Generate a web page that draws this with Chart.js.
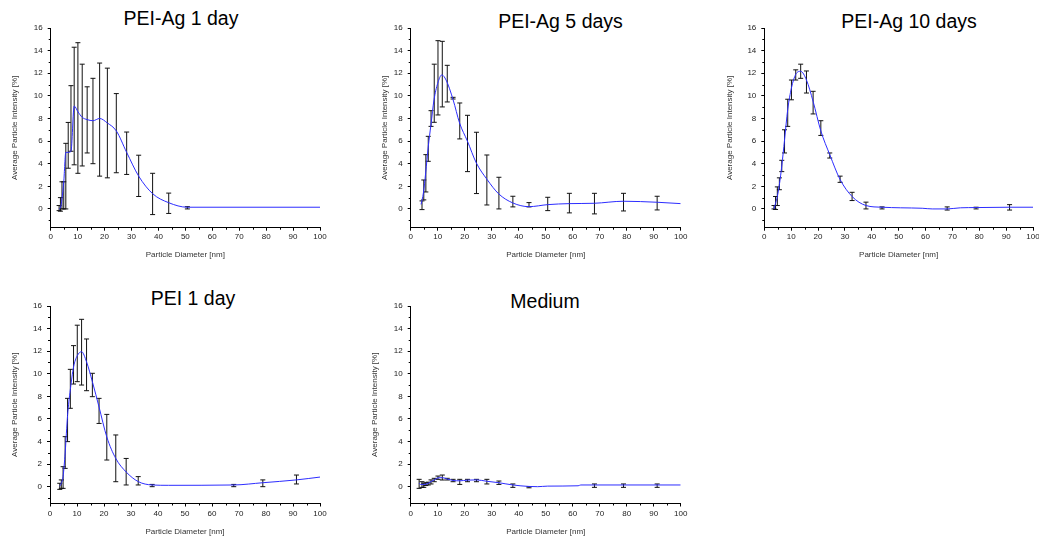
<!DOCTYPE html>
<html>
<head>
<meta charset="utf-8">
<script src="https://cdn.jsdelivr.net/npm/chart.js@4.4.1/dist/chart.umd.min.js"></script>
<style>
  body { margin: 0; background: #fff; width: 1039px; height: 540px; position: relative; overflow: hidden;
         font-family: Arial, 'Liberation Sans', sans-serif; }
  canvas { position: absolute; }
  .title { position: absolute; font-size: 19.5px; line-height: 1; white-space: nowrap; color: #000;
           transform: translateX(-50%); }
</style>
</head>
<body>
<div class="title" style="left:181px; top:8.5px">PEI-Ag 1 day</div>
<div class="title" style="left:560.5px; top:11.8px">PEI-Ag 5 days</div>
<div class="title" style="left:909px; top:11.8px">PEI-Ag 10 days</div>
<div class="title" style="left:193px; top:288.5px">PEI 1 day</div>
<div class="title" style="left:545px; top:291.8px">Medium</div>

<canvas id="c1" width="332" height="250" style="left:0px; top:22px"></canvas>
<canvas id="c2" width="333" height="250" style="left:360px; top:22px"></canvas>
<canvas id="c3" width="324" height="250" style="left:715px; top:22px"></canvas>
<canvas id="c4" width="332" height="240" style="left:0px; top:300px"></canvas>
<canvas id="c5" width="333" height="240" style="left:360px; top:300px"></canvas>

<script>
// axis ticks
const xTickValues = [0, 10, 20, 30, 40, 50, 60, 70, 80, 90, 100];
const yTickValues = [0, 2, 4, 6, 8, 10, 12, 14, 16];
const xMinorTicks = [5, 15, 25, 35, 45, 55, 65, 75, 85, 95];
const yMinorTicks = [-1, 1, 3, 5, 7, 9, 11, 13, 15];

// PEI-Ag 1 day
const barX1    = [3.122, 3.615, 4.187, 4.849, 5.615, 6.503, 7.531, 8.721, 10.1, 11.7, 13.54, 15.69, 18.17, 21.04, 24.36, 28.21, 32.67, 37.84, 43.82, 50.75];
const barLow1  = [-0.15, -0.2, 0.0, 0.0, 0.0, 3.6, 5.1, 3.9, 3.15, 3.8, 4.95, 4.0, 2.9, 2.75, 3.2, 3.05, 1.1, -0.5, -0.4, 0.0];
const barHigh1 = [0.3, 1.0, 2.4, 2.4, 5.8, 7.65, 10.9, 14.3, 14.7, 12.8, 10.8, 11.55, 12.9, 12.45, 10.2, 6.8, 4.75, 3.15, 1.4, 0.2];
const lineX1   = [3.122, 3.615, 4.187, 4.849, 5.615, 6.503, 7.531, 8.721, 10.1, 11.7, 13.54, 15.69, 18.17, 21.04, 24.36, 28.21, 32.67, 37.84, 43.82, 50.75, 100];
const lineY1   = [0.0, 0.1, 0.9, 2.4, 5.0, 5.0, 5.1, 9.1, 8.6, 8.1, 7.9, 7.8, 8.0, 7.6, 6.9, 5.0, 2.9, 1.35, 0.55, 0.15, 0.15];

// PEI-Ag 5 days
const barX2    = [4.187, 4.849, 5.615, 6.503, 7.531, 8.721, 10.1, 11.7, 13.54, 15.69, 18.17, 21.04, 24.36, 28.21, 32.67, 37.84, 43.82, 50.75, 58.77, 68.06, 78.82, 91.28];
const barLow2  = [-0.06, 0.8, 1.5, 4.21, 7.3, 7.66, 8.31, 9.02, 9.46, 9.72, 6.19, 3.3, 1.36, 0.35, 0.0, 0.18, 0.18, -0.15, -0.35, -0.44, -0.18, -0.09];
const barHigh2 = [0.71, 2.56, 4.8, 6.42, 8.69, 12.8, 14.88, 14.82, 12.7, 9.87, 9.37, 8.28, 6.78, 4.77, 2.8, 1.12, 0.56, 1.03, 1.38, 1.38, 1.38, 1.12];
const lineX2   = [3.83, 4.7, 5.55, 6.5, 7.5, 8.64, 10.0, 11.5, 13.1, 15.7, 18.1, 21.0, 24.3, 28.3, 32.6, 37.8, 43.8, 50.75, 58.8, 68.0, 78.8, 91.3, 100];
const lineY2   = [0.4, 1.4, 3.2, 5.5, 7.45, 9.66, 11.1, 11.85, 11.4, 9.66, 7.6, 6.0, 4.07, 2.6, 1.33, 0.53, 0.2, 0.38, 0.47, 0.5, 0.68, 0.59, 0.47];

// PEI-Ag 10 days
const barX3    = [3.615, 4.187, 4.849, 5.615, 6.503, 7.531, 8.721, 10.1, 11.7, 13.54, 15.69, 18.17, 21.04, 24.36, 28.21, 32.67, 37.84, 43.82, 68.06, 78.82, 91.28];
const barLow3  = [0.0, -0.05, 0.3, 1.7, 3.3, 4.95, 7.3, 9.65, 11.4, 11.55, 10.25, 8.4, 6.5, 4.5, 2.35, 0.74, 0.0, 0.0, -0.1, 0.0, -0.1];
const barHigh3 = [0.3, 1.1, 1.95, 2.75, 4.3, 7.0, 9.7, 11.4, 12.3, 12.8, 12.2, 10.4, 7.8, 4.95, 2.9, 1.47, 0.6, 0.18, 0.18, 0.15, 0.38];
const lineX3   = [3.615, 4.187, 4.849, 5.615, 6.503, 7.531, 8.721, 10.1, 11.7, 13.54, 15.69, 18.17, 21.04, 24.36, 28.21, 32.67, 37.84, 43.82, 50.75, 58.77, 62.5, 68.06, 73.0, 78.82, 91.28, 100];
const lineY3   = [0.0, 0.5, 1.1, 2.15, 3.8, 6.1, 8.8, 10.7, 11.9, 12.17, 11.4, 9.5, 6.9, 4.8, 2.6, 1.1, 0.3, 0.15, 0.1, 0.06, 0.0, 0.0, 0.1, 0.12, 0.15, 0.15];

// PEI 1 day
const barX4    = [3.615, 4.187, 4.849, 5.615, 6.503, 7.531, 8.721, 10.1, 11.7, 13.54, 15.69, 18.17, 21.04, 24.36, 28.21, 32.67, 37.84, 68.06, 78.82, 91.28];
const barLow4  = [-0.24, -0.15, -0.15, 1.62, 3.99, 6.94, 9.09, 9.3, 9.0, 8.5, 7.97, 5.6, 2.36, 0.44, 0.15, 0.15, 0.0, 0.0, 0.0, 0.24];
const barHigh4 = [0.3, 0.6, 1.77, 4.43, 7.82, 10.39, 12.49, 14.3, 14.82, 13.08, 10.04, 7.82, 6.4, 4.58, 2.5, 0.89, 0.2, 0.2, 0.6, 1.03];
const lineX4   = [3.615, 4.187, 4.849, 5.615, 6.503, 7.531, 8.721, 10.1, 11.7, 13.54, 15.69, 18.17, 21.04, 24.36, 28.21, 32.67, 37.84, 43.82, 68.06, 78.82, 91.28, 100];
const lineY4   = [0.05, 0.3, 0.9, 3.0, 6.3, 8.6, 10.6, 11.6, 11.95, 11.05, 9.3, 7.05, 4.4, 2.5, 1.3, 0.45, 0.15, 0.12, 0.15, 0.35, 0.6, 0.85];

// Medium
const barX5    = [3.122, 4.187, 4.849, 5.615, 6.503, 7.531, 8.721, 10.1, 11.7, 13.54, 15.69, 18.17, 21.04, 24.36, 28.21, 32.67, 37.84, 43.82, 68.06, 78.82, 91.28];
const barLow5  = [-0.15, -0.06, -0.06, 0.1, 0.15, 0.24, 0.44, 0.65, 0.59, 0.59, 0.44, 0.2, 0.44, 0.44, 0.24, 0.2, -0.06, -0.1, -0.06, -0.06, -0.06];
const barHigh5 = [0.65, 0.44, 0.3, 0.35, 0.4, 0.6, 0.74, 0.94, 1.03, 0.74, 0.65, 0.65, 0.65, 0.65, 0.65, 0.5, 0.24, 0.0, 0.24, 0.24, 0.24];
const lineX5   = [3.122, 3.615, 4.187, 4.849, 5.615, 6.503, 7.531, 8.721, 10.1, 11.7, 13.54, 15.69, 18.17, 21.04, 24.36, 28.21, 32.67, 37.84, 43.82, 47.0, 50.75, 62.0, 63.0, 68.06, 78.82, 91.28, 100];
const lineY5   = [0.3, 0.2, 0.2, 0.2, 0.22, 0.3, 0.45, 0.6, 0.78, 0.8, 0.68, 0.55, 0.52, 0.58, 0.6, 0.48, 0.35, 0.15, 0.02, 0.0, 0.05, 0.08, 0.15, 0.15, 0.15, 0.15, 0.15];

// draws the error bars of datasets flagged with errorBars
const errorBarPlugin = {
    id: 'errorBarPlugin',
    beforeDatasetsDraw(chart) {
        const ctx = chart.ctx;
        const y = chart.scales.y;
        ctx.save();
        ctx.strokeStyle = '#111';
        ctx.lineWidth = 1;
        ctx.beginPath();
        chart.data.datasets.forEach((ds, i) => {
            if (!ds.errorBars) return;
            const meta = chart.getDatasetMeta(i);
            meta.data.forEach((pt, j) => {
                const raw = ds.data[j];
                const top = y.getPixelForValue(raw.high);
                const bot = y.getPixelForValue(raw.low);
                ctx.moveTo(pt.x, top); ctx.lineTo(pt.x, bot);
                ctx.moveTo(pt.x - 2.5, top); ctx.lineTo(pt.x + 2.5, top);
                ctx.moveTo(pt.x - 2.5, bot); ctx.lineTo(pt.x + 2.5, bot);
            });
        });
        ctx.stroke();
        ctx.restore();
    }
};

// short minor ticks on both axes
const minorTickPlugin = {
    id: 'minorTickPlugin',
    afterDraw(chart) {
        const {ctx, chartArea, scales: {x, y}} = chart;
        ctx.save();
        ctx.strokeStyle = '#000';
        ctx.lineWidth = 1;
        ctx.beginPath();
        xMinorTicks.forEach(v => {
            const px = Math.round(x.getPixelForValue(v)) + 0.5;
            ctx.moveTo(px, chartArea.bottom);
            ctx.lineTo(px, chartArea.bottom + 2);
        });
        yMinorTicks.forEach(v => {
            if (v < y.min) return;
            const py = Math.round(y.getPixelForValue(v)) + 0.5;
            ctx.moveTo(chartArea.left, py);
            ctx.lineTo(chartArea.left - 2, py);
        });
        ctx.stroke();
        ctx.restore();
    }
};

function makePanel(id, barX, barLow, barHigh, lineX, lineY, g) {
    const curve = lineX.map((v, i) => ({x: v, y: lineY[i]}));
    const bars = barX.map((v, i) => ({x: v, y: (barLow[i] + barHigh[i]) / 2, low: barLow[i], high: barHigh[i]}));
    const tickFont = {family: "Arial, 'Liberation Sans', sans-serif", size: 8};

    new Chart(document.getElementById(id).getContext('2d'), {
        type: 'line',
        data: {
            datasets: [{
                data: bars,
                errorBars: true,
                showLine: false,
                pointRadius: 0
            }, {
                data: curve,
                borderColor: 'rgb(45, 45, 255)',
                borderWidth: 1,
                pointRadius: 0,
                fill: false,
                cubicInterpolationMode: 'monotone'
            }]
        },
        options: {
            responsive: false,
            animation: false,
            devicePixelRatio: 1,
            layout: {padding: {left: 0, top: 6, right: g.padRight, bottom: 0}},
            plugins: {legend: {display: false}, tooltip: {enabled: false}},
            scales: {
                x: {
                    type: 'linear',
                    min: 0,
                    max: 100,
                    afterBuildTicks: s => { s.ticks = xTickValues.map(v => ({value: v})); },
                    afterFit: s => { s.height = g.xAxisH; s.paddingLeft = 0; s.paddingRight = 0; },
                    grid: {drawOnChartArea: false, drawTicks: true, tickLength: 3, color: '#000'},
                    border: {display: true, color: '#000', width: 1},
                    ticks: {font: tickFont, color: '#222', padding: g.xTickPad, maxRotation: 0, autoSkip: false},
                    title: {display: true, text: 'Particle Diameter [nm]', font: tickFont, color: '#333',
                            padding: {top: 0, bottom: g.xTitlePad}}
                },
                y: {
                    min: g.yMin,
                    max: 16,
                    afterBuildTicks: s => { s.ticks = yTickValues.map(v => ({value: v})); },
                    afterFit: s => { s.width = g.yAxisW; s.paddingTop = 0; s.paddingBottom = 0; },
                    grid: {drawOnChartArea: false, drawTicks: true, tickLength: 3, color: '#000'},
                    border: {display: true, color: '#000', width: 1},
                    ticks: {font: tickFont, color: '#222', padding: 5},
                    title: {display: true, text: 'Average Particle Intensity [%]', font: tickFont, color: '#333',
                            padding: {top: g.yTitlePad, bottom: 0}}
                }
            }
        },
        plugins: [errorBarPlugin, minorTickPlugin]
    });
}

makePanel('c1', barX1, barLow1, barHigh1, lineX1, lineY1,
    {yAxisW: 50.7, padRight: 12, xAxisH: 44.3, yMin: -1.66, xTickPad: 1.5, xTitlePad: 12.2, yTitlePad: 10.2});
makePanel('c2', barX2, barLow2, barHigh2, lineX2, lineY2,
    {yAxisW: 50.7, padRight: 12.3, xAxisH: 44.3, yMin: -1.66, xTickPad: 1.5, xTitlePad: 12.2, yTitlePad: 20.2});
makePanel('c3', barX3, barLow3, barHigh3, lineX3, lineY3,
    {yAxisW: 49.3, padRight: 6, xAxisH: 44.3, yMin: -1.66, xTickPad: 1.5, xTitlePad: 12.2, yTitlePad: 10.2});
makePanel('c4', barX4, barLow4, barHigh4, lineX4, lineY4,
    {yAxisW: 50, padRight: 12, xAxisH: 36.5, yMin: -1.49, xTickPad: 2.5, xTitlePad: 3.7, yTitlePad: 10.2});
makePanel('c5', barX5, barLow5, barHigh5, lineX5, lineY5,
    {yAxisW: 50.7, padRight: 12.3, xAxisH: 36.5, yMin: -1.49, xTickPad: 2.5, xTitlePad: 3.7, yTitlePad: 10.2});
</script>
</body>
</html>
